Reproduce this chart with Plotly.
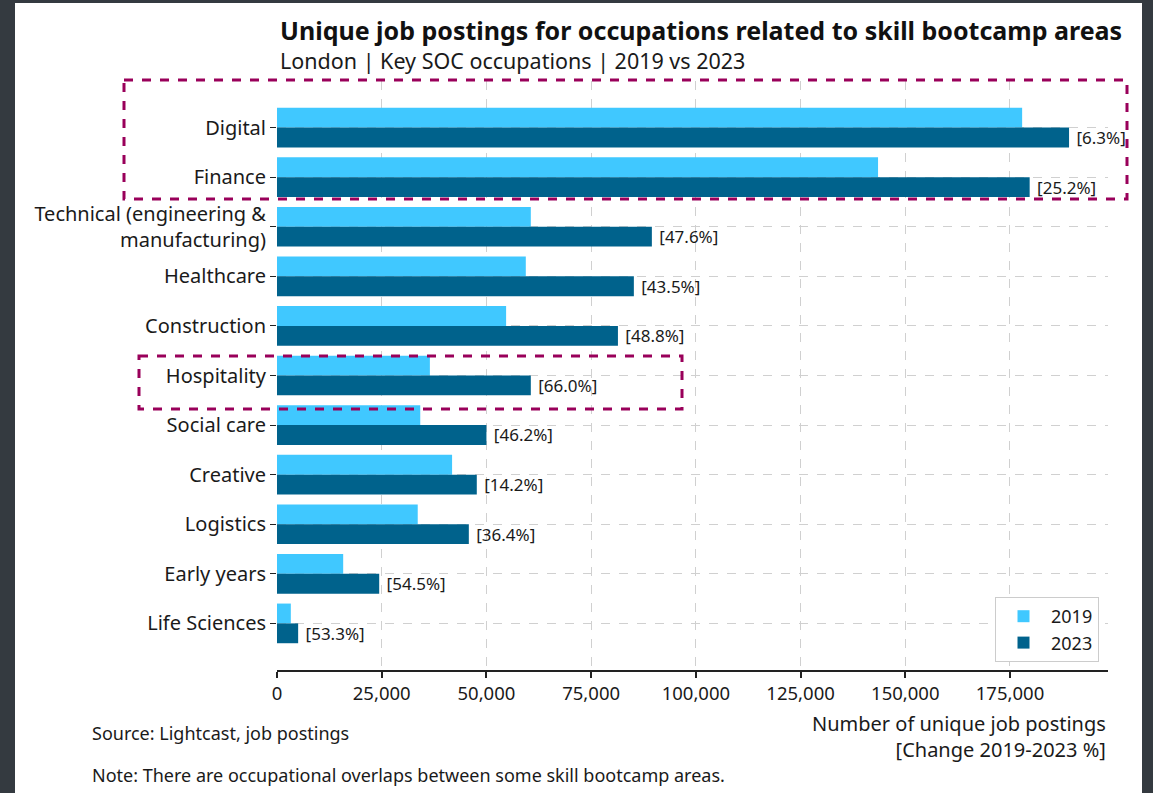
import plotly.graph_objects as go

categories = ["Digital", "Finance", "Technical (engineering &<br>manufacturing)", "Healthcare",
              "Construction", "Hospitality", "Social care", "Creative", "Logistics",
              "Early years", "Life Sciences"]
postings_2019 = [177900, 143500, 60600, 59400, 54700, 36500, 34200, 41800, 33600, 15800, 3300]
postings_2023 = [189100, 179700, 89500, 85200, 81400, 60600, 50000, 47700, 45800, 24400, 5050]
change_labels = ["[6.3%]", "[25.2%]", "[47.6%]", "[43.5%]", "[48.8%]", "[66.0%]",
                 "[46.2%]", "[14.2%]", "[36.4%]", "[54.5%]", "[53.3%]"]
x_ticks = [0, 25000, 50000, 75000, 100000, 125000, 150000, 175000]

W, H = 1153, 793
L, R, T, B = 277, 45, 81, 123
FONT = "Noto Sans"
C19 = "#40C8FF"
C23 = "#00628C"
MAG = "#99005A"
TXT = "#1a1a1a"

fig = go.Figure()
fig.add_trace(go.Bar(y=categories, x=postings_2019, orientation="h", name="2019",
                     marker=dict(color=C19, line=dict(width=0))))
fig.add_trace(go.Bar(y=categories, x=postings_2023, orientation="h", name="2023",
                     marker=dict(color=C23, line=dict(width=0)),
                     text=change_labels, texttemplate=" %{text}",
                     textposition="outside", constraintext="none",
                     cliponaxis=False,
                     textfont=dict(family=FONT, size=17, color=TXT)))

def px(xp):
    return (xp - L) / (W - L - R)

def py(yp):
    return (H - B - yp) / (H - T - B)

shapes = [
    dict(type="rect", xref="paper", yref="paper", x0=px(15), x1=px(1142), y0=py(3), y1=py(793),
         fillcolor="white", line=dict(width=0), layer="below"),
    dict(type="rect", xref="paper", yref="paper", x0=px(124), x1=px(1127), y0=py(80), y1=py(199),
         line=dict(color=MAG, width=3, dash="dash"), fillcolor="rgba(0,0,0,0)", layer="above"),
    dict(type="rect", xref="paper", yref="paper", x0=px(139), x1=px(682), y0=py(356), y1=py(409),
         line=dict(color=MAG, width=3, dash="dash"), fillcolor="rgba(0,0,0,0)", layer="above"),
]

annotations = [
    dict(text="<b>Unique job postings for occupations related to skill bootcamp areas</b>",
         xref="paper", yref="paper", x=px(278), y=py(30), xanchor="left", yanchor="middle",
         showarrow=False, font=dict(family=FONT, size=25, color="#111")),
    dict(text="London | Key SOC occupations | 2019 vs 2023",
         xref="paper", yref="paper", x=px(278), y=py(60), xanchor="left", yanchor="middle",
         showarrow=False, font=dict(family=FONT, size=21.5, color=TXT)),
    dict(text="Number of unique job postings<br>[Change 2019-2023 %]",
         xref="paper", yref="paper", x=px(1108), y=py(708), xanchor="right", yanchor="top",
         align="right", showarrow=False, font=dict(family=FONT, size=20, color=TXT)),
    dict(text="Source: Lightcast, job postings",
         xref="paper", yref="paper", x=px(90), y=py(733), xanchor="left", yanchor="middle",
         showarrow=False, font=dict(family=FONT, size=18, color=TXT)),
    dict(text="Note: There are occupational overlaps between some skill bootcamp areas.",
         xref="paper", yref="paper", x=px(90), y=py(775), xanchor="left", yanchor="middle",
         showarrow=False, font=dict(family=FONT, size=18, color=TXT)),
]

fig.update_layout(
    width=W, height=H,
    margin=dict(l=L, r=R, t=T, b=B, pad=0),
    paper_bgcolor="#343A40", plot_bgcolor="white",
    barmode="group", bargap=0.2, bargroupgap=0,
    font=dict(family=FONT, size=18, color=TXT),
    shapes=shapes, annotations=annotations,
    legend=dict(x=px(1099), y=py(662), xanchor="right", yanchor="bottom",
                bgcolor="white", bordercolor="#CCCCCC", borderwidth=1,
                font=dict(family=FONT, size=18, color=TXT),
                itemwidth=45, tracegroupgap=4),
    showlegend=True,
)
fig.update_xaxes(range=[0, 198400], tickvals=x_ticks, tickformat=",",
                 showgrid=True, gridcolor="#D0D0D0", griddash="dash", gridwidth=1,
                 showline=True, linecolor="#222", linewidth=1.5,
                 ticks="outside", ticklen=6, tickcolor="#222", tickwidth=1.5,
                 tickfont=dict(family=FONT, size=18.5, color=TXT), zeroline=False)
fig.update_yaxes(type="category", categoryorder="array", categoryarray=categories,
                 range=[10.94, -0.94],
                 showgrid=True, gridcolor="#D0D0D0", griddash="dash", gridwidth=1,
                 showline=False, ticks="outside", ticklen=6, tickcolor="#222",
                 tickfont=dict(family=FONT, size=20, color=TXT), zeroline=False)

fig.write_html("out.html")
